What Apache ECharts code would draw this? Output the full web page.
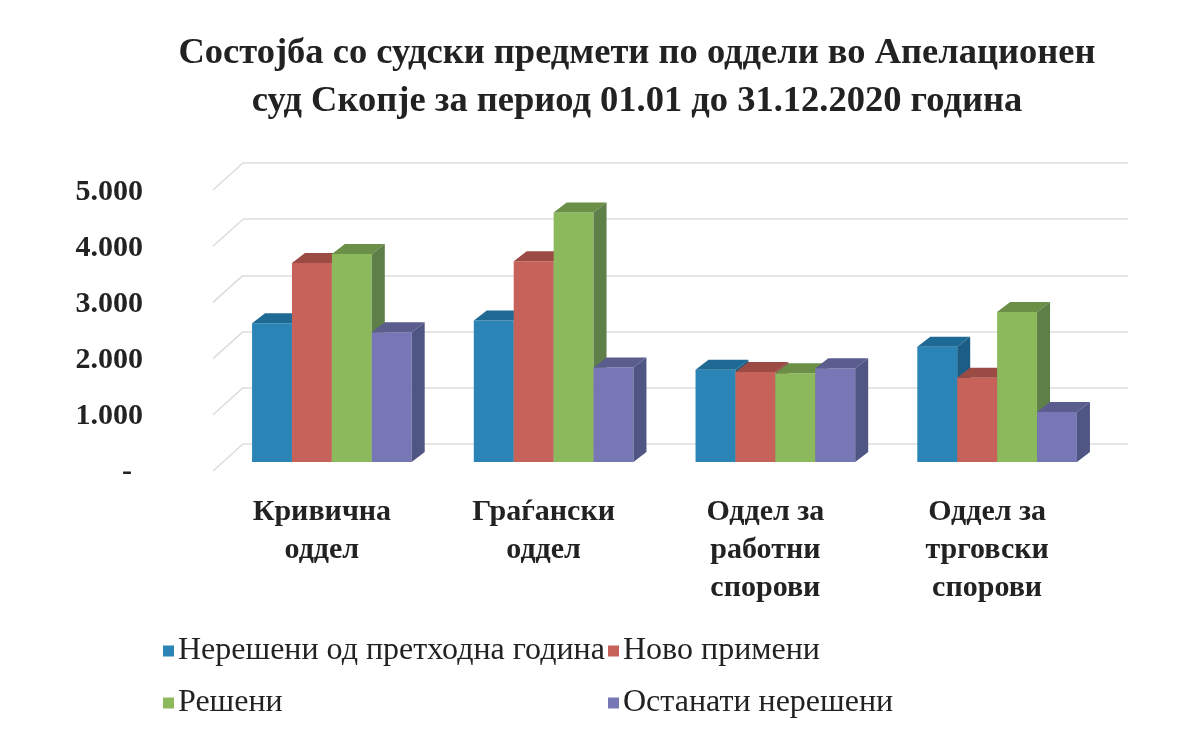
<!DOCTYPE html>
<html>
<head>
<meta charset="utf-8">
<title>Состојба со судски предмети</title>
<script src="https://cdn.jsdelivr.net/npm/echarts@6/dist/echarts.min.js"></script>
<style>
  html, body { margin: 0; padding: 0; background: #fff; }
  #chart { width: 1196px; height: 734px; }
</style>
</head>
<body>
<div id="chart"></div>
<script>
// data
const categories = ['Кривична\nоддел', 'Граѓански\nоддел', 'Оддел за\nработни\nспорови', 'Оддел за\nтрговски\nспорови']
const seriesNames = ['Нерешени од претходна година', 'Ново примени', 'Решени', 'Останати нерешени']
const unresolvedPrev = [2470, 2520, 1640, 2050]
const newlyReceived = [3540, 3570, 1600, 1500]
const resolved = [3700, 4440, 1580, 2670]
const remaining = [2310, 1680, 1670, 890]
const yTicks = [0, 1000, 2000, 3000, 4000, 5000]

const FONT = '"Liberation Serif", "DejaVu Serif", serif'
const palette = [
  { front: '#2a84b6', top: '#1f6a94', side: '#1b5d84' },
  { front: '#c6625a', top: '#9c4a44', side: '#8c4440' },
  { front: '#8cb95c', top: '#6b8f47', side: '#5f7f48' },
  { front: '#7877b5', top: '#5b5d8f', side: '#4f5683' }
]
const DEPTH = { dx: 13, dy: -10 }

const chart = echarts.init(document.getElementById('chart'))

const barSeries = [unresolvedPrev, newlyReceived, resolved, remaining].map((vals, si) => ({
  name: seriesNames[si],
  type: 'custom',
  xAxisIndex: 0,
  yAxisIndex: 0,
  z: 5,
  itemStyle: { color: palette[si].front },
  encode: { x: 0, y: 1 },
  data: vals.map((v, i) => [i, v]),
  renderItem: (params, api) => {
    const top = api.coord([api.value(0), api.value(1)])
    const base = api.coord([api.value(0), 0])
    const band = api.size([1, 0])[0]
    const w = band * 0.18
    const x0 = top[0] + (si - 1.5) * w - w / 2
    const x1 = x0 + w
    const { dx, dy } = DEPTH
    const c = palette[si]
    return {
      type: 'group',
      children: [
        { type: 'rect', shape: { x: x0, y: top[1], width: w, height: base[1] - top[1] }, style: { fill: c.front } },
        { type: 'polygon', shape: { points: [[x0, top[1]], [x1, top[1]], [x1 + dx, top[1] + dy], [x0 + dx, top[1] + dy]] }, style: { fill: c.top } },
        { type: 'polygon', shape: { points: [[x1, top[1]], [x1 + dx, top[1] + dy], [x1 + dx, base[1] + dy], [x1, base[1]]] }, style: { fill: c.side } }
      ]
    }
  }
}))

// diagonal side-wall lines at each tick of the back wall
const wallSeries = {
  type: 'custom',
  xAxisIndex: 1,
  yAxisIndex: 1,
  silent: true,
  z: 1,
  data: yTicks.map(v => [0, v]),
  renderItem: (params, api) => {
    const p = api.coord([0, api.value(1)])
    return {
      type: 'line',
      shape: { x1: p[0], y1: p[1], x2: p[0] - 30, y2: p[1] + 27 },
      style: { stroke: '#dcdcdc', lineWidth: 1.5 }
    }
  }
}

const legendPos = [[163, 634], [608, 634], [163, 686], [608, 686]]

const option = {
  animation: false,
  title: {
    text: 'Состојба со судски предмети по оддели во Апелационен\nсуд Скопје за период 01.01 до 31.12.2020 година',
    left: 637,
    top: 30,
    padding: 0,
    textAlign: 'center',
    textStyle: { fontFamily: FONT, fontSize: 36.5, fontWeight: 'bold', color: '#222', lineHeight: 48 }
  },
  legend: seriesNames.map((n, i) => ({
    data: [n],
    left: legendPos[i][0],
    top: legendPos[i][1],
    padding: 0,
    icon: 'rect',
    itemWidth: 11,
    itemHeight: 11,
    textStyle: { fontFamily: FONT, fontSize: 32, color: '#222', lineHeight: 34, padding: [0, 0, 0, -1] }
  })),
  grid: [
    { left: 221, right: 88, top: 181, bottom: 272 },   // bars
    { left: 243, right: 68, top: 163, bottom: 290 },   // back wall
    { left: 151, width: 10, top: 192, bottom: 262 }    // value labels
  ],
  xAxis: [
    {
      gridIndex: 0, type: 'category', data: categories,
      axisLine: { show: false }, axisTick: { show: false },
      axisLabel: {
        interval: 0, margin: 31, padding: [0, 20, 0, 0],
        fontFamily: FONT, fontSize: 30, fontWeight: 'bold', color: '#222', lineHeight: 38
      }
    },
    { gridIndex: 1, type: 'value', min: 0, max: 1, show: false },
    { gridIndex: 2, type: 'value', min: 0, max: 1, show: false }
  ],
  yAxis: [
    { gridIndex: 0, type: 'value', min: 0, max: 5000, show: false },
    {
      gridIndex: 1, type: 'value', min: 0, max: 5000, interval: 1000,
      axisLine: { show: false }, axisTick: { show: false }, axisLabel: { show: false },
      splitLine: { lineStyle: { color: '#dcdcdc', width: 1.5 } }
    },
    {
      gridIndex: 2, type: 'value', min: 0, max: 5000, interval: 1000,
      axisLine: { show: false }, axisTick: { show: false }, splitLine: { show: false },
      axisLabel: {
        margin: 8,
        fontFamily: FONT, fontSize: 30, fontWeight: 'bold', color: '#222',
        formatter: v => v === 0 ? '{d|-}' : (v / 1000).toFixed(3),
        rich: { d: { fontFamily: FONT, fontSize: 30, fontWeight: 'bold', color: '#222', padding: [0, 11, 0, 0] } }
      }
    }
  ],
  series: [...barSeries, wallSeries]
}

chart.setOption(option)
</script>
</body>
</html>
